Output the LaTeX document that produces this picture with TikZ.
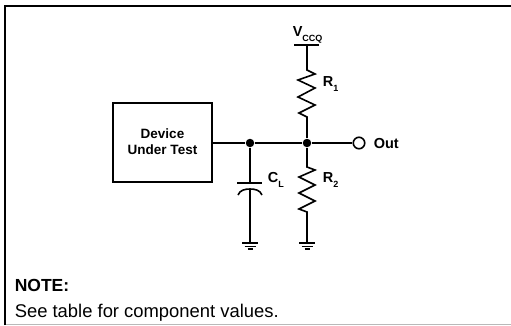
\documentclass[tikz,border=0pt]{standalone}
\usepackage{fontspec}
\setmainfont{Liberation Sans}
\newcommand{\subtext}[1]{\raisebox{-5pt}{\fontsize{9}{10}\selectfont #1}}
\begin{document}
\begin{tikzpicture}[x = 1pt, y = -1pt, line width = 1.6pt,
	labeltext/.style = {font = \bfseries\fontsize{14.5}{16}\selectfont, inner sep = 0},
	dot/.style = {circle, fill, inner sep = 0, minimum size = 8.5pt},
	gndbar/.style = {line width = 1.5pt}]

	\useasboundingbox (0, 0) rectangle (511, 325);

	% Outer frame

	\draw [gray!55, line width = 1pt] (5, 324.5) -- (511, 324.5);
	\draw [line width = 2.4pt] (5, 325) -- (5, 6) -- (511, 6);

	% Device box

	\node (dut) [draw, line width = 1.6pt, minimum width = 99pt, minimum height = 79pt, inner sep = 0] at (162.5, 142.5) {};
	\node (dutname) [inner sep = 0, align = center, font = \bfseries\fontsize{13.5}{16}\selectfont] at (162.5, 141.5) {Device\\Under Test};

	% Main wire and junctions

	\node (nodec) [dot] at (250, 143) {};
	\node (noder) [dot] at (307, 143) {};
	\node (out) [circle, draw, line width = 1.6pt, minimum size = 11.5pt, inner sep = 0] at (359, 143) {};
	\draw (dut.east |- nodec) -- (nodec) -- (noder) -- (out);
	\node (outname) [labeltext, anchor = base west] at (373, 148) {Out};

	% R1 and supply

	\coordinate (vcc) at (307, 45);
	\draw (294, 45) -- (319, 45);
	\node (vccq) [labeltext, anchor = base west] at (292, 36) {V\subtext{CCQ}};
	\draw (vcc) -- (307, 70) -- (315, 74) -- (298, 80) -- (315, 88) -- (298, 97) -- (315, 105) -- (299, 113) -- (307, 117) -- (noder);
	\node (r1) [labeltext, anchor = base west] at (322, 86) {R\subtext{1}};

	% R2 and ground

	\coordinate (gndr) at (307, 243);
	\draw (noder) -- (307, 167) -- (315, 170) -- (299, 177) -- (315, 185) -- (299, 193) -- (315, 201) -- (299, 209) -- (307, 212) -- (gndr);
	\node (r2) [labeltext, anchor = base west] at (322, 182) {R\subtext{2}};

	% CL and ground

	\coordinate (gndc) at (250, 243);
	\draw (nodec) -- (250, 183);
	\draw (237, 183) -- (262, 183);
	\draw (238, 195) .. controls (240, 190) and (245, 189) .. (250, 189) .. controls (255, 189) and (260, 190) .. (262, 195);
	\draw (250, 189) -- (gndc);
	\node (cl) [labeltext, anchor = base west] at (267, 182) {C\subtext{L}};

	% Ground symbols

	\foreach \g in {gndc, gndr} {
		\draw [gndbar] ([xshift = -8pt] \g) -- ([xshift = 8pt] \g);
		\draw [gndbar] ([shift = {(-5.5pt, -3.5pt)}] \g) -- ([shift = {(5.5pt, -3.5pt)}] \g);
		\draw [gndbar] ([shift = {(-2.5pt, -6pt)}] \g) -- ([shift = {(2.5pt, -6pt)}] \g);
	}

	% Note

	\node (note) [anchor = base west, inner sep = 0, font = \bfseries\fontsize{17.5}{20}\selectfont] at (14, 291) {NOTE:};
	\node (notetext) [anchor = base west, inner sep = 0, font = \fontsize{18.4}{20}\selectfont] at (14, 317) {See table for component values.};

\end{tikzpicture}
\end{document}
